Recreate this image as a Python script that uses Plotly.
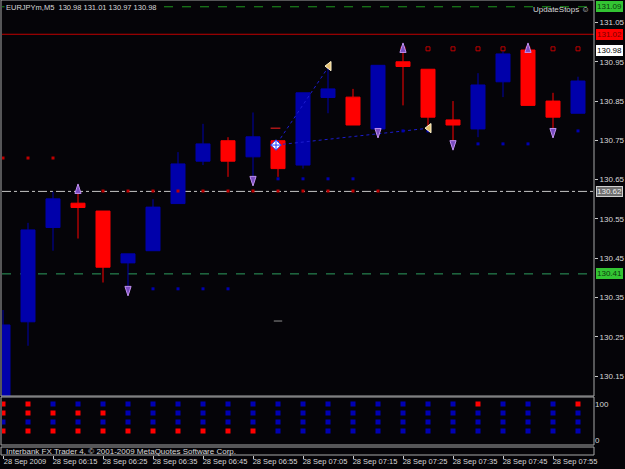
import plotly.graph_objects as go

# ---------------- data ----------------
bar_times = ["06:05", "06:10", "06:15", "06:20", "06:25", "06:30", "06:35", "06:40",
             "06:45", "06:50", "06:55", "07:00", "07:05", "07:10", "07:15", "07:20",
             "07:25", "07:30", "07:35", "07:40", "07:45", "07:50", "07:55", "08:00"]
bar_idx = list(range(len(bar_times)))
opens = [130.050, 130.288, 130.528, 130.590, 130.570, 130.438, 130.469, 130.589,
         130.697, 130.749, 130.708, 130.749, 130.687, 130.859, 130.860, 130.779,
         130.950, 130.931, 130.802, 130.779, 130.899, 130.980, 130.850, 130.819]
highs = [130.318, 130.540, 130.619, 130.616, 130.570, 130.461, 130.600, 130.720,
         130.792, 130.758, 130.821, 130.749, 130.871, 130.935, 130.881, 130.941,
         130.975, 130.931, 130.850, 130.921, 130.977, 130.980, 130.871, 130.912]
lows = [130.020, 130.227, 130.469, 130.500, 130.388, 130.374, 130.469, 130.589,
        130.687, 130.657, 130.652, 130.657, 130.678, 130.819, 130.789, 130.768,
        130.839, 130.776, 130.742, 130.758, 130.860, 130.839, 130.776, 130.819]
closes = [130.280, 130.522, 130.601, 130.579, 130.427, 130.461, 130.580, 130.690,
          130.741, 130.697, 130.759, 130.678, 130.871, 130.881, 130.789, 130.941,
          130.938, 130.809, 130.789, 130.891, 130.970, 130.839, 130.809, 130.901]

time_tick_idx = [0, 2, 4, 6, 8, 10, 12, 14, 16, 18, 20, 22]
time_tick_text = ["28 Sep 2009", "28 Sep 06:15", "28 Sep 06:25", "28 Sep 06:35",
                  "28 Sep 06:45", "28 Sep 06:55", "28 Sep 07:05", "28 Sep 07:15",
                  "28 Sep 07:25", "28 Sep 07:35", "28 Sep 07:45", "28 Sep 07:55"]
price_ticks = [131.05, 130.95, 130.85, 130.75, 130.65, 130.55, 130.45, 130.35, 130.25, 130.15]
price_tick_text = ["131.05", "130.95", "130.85", "130.75", "130.65", "130.55",
                   "130.45", "130.35", "130.25", "130.15"]

# indicator marks
up_arrow_idx = [3, 16, 21]
up_arrow_price = [130.639, 130.998, 130.998]
down_arrow_idx = [5, 10, 15, 18, 22]
down_arrow_price = [130.354, 130.634, 130.756, 130.725, 130.756]
tri_idx = [13.04, 17.04]
tri_price = [130.939, 130.781]
pivot_idx = [10.92]
pivot_price = [130.738]
dotline_idx = [13.04, 10.92, 17.04]
dotline_price = [130.939, 130.738, 130.781]
red_stop = [130.705] * 3 + [130.621] * 13 + [None] * 8
red_hollow = [None] * 16 + [130.983] * 8
blue_stop = [None] * 5 + [130.372] * 5 + [130.652] * 5 + [130.774] * 3 + [130.741] * 4 + [130.774] * 2
red_dash_idx = [10.9]
red_dash_price = [130.781]
gray_dash_idx = [11]
gray_dash_price = [130.290]

# price levels: (price, colour, dash)
level_prices = [131.09, 131.02, 130.62, 130.41]
level_colors = ["#1f9a1f", "#c00000", "#c8c8c8", "#2e9e5e"]
level_dashes = ["dash", "solid", "dashdot", "dash"]

# right-hand price boxes
box_prices = [131.09, 131.02, 130.98, 130.62, 130.41]
box_text = ["131.09", "131.02", "130.98", "130.62", "130.41"]
box_bg = ["#33c433", "#ff0000", "#ffffff", "#6e6e6e", "#33c433"]
box_fg = ["#0d3a0d", "#7a0000", "#000000", "#eeeeee", "#0d3a0d"]
box_border = ["#33c433", "#ff0000", "#ffffff", "#d0d0d0", "#33c433"]

# sub-window signal rows (levels 100/75/50/25)
sub_levels = [100, 75, 50, 25]
R, B = "#ff0000", "#0000b4"
sub_row_colors = [
    [R, R] + [B] * 17 + [R] + [B] * 3 + [R],
    [R] * 5 + [B] * 19,
    [B] * 24,
    [R] * 11 + [B] * 13,
]

# ---------------- geometry helpers ----------------
W, H = 625, 469
def px(xp):
    return xp / W
def py(yp):
    return 1 - yp / H

X_LEFT, X_RIGHT = 2, 594
x_range = [(X_LEFT - 3) / 25, (X_RIGHT - 3) / 25]
MAIN_TOP, MAIN_BOT = 0, 396
ppu = 392.8
y_range = [131.05 - (MAIN_BOT - 22.5) / ppu, 131.05 + 22.5 / ppu]
SUB_TOP, SUB_BOT = 398, 445
sub_range = [0 - (SUB_BOT - 440) / 0.36, 100 + (404 - SUB_TOP) / 0.36]

FONT = "Liberation Sans, Arial, sans-serif"
TXT = "#d8d8d8"
BG = "#050408"

fig = go.Figure()

fig.add_trace(go.Candlestick(
    x=bar_idx, open=opens, high=highs, low=lows, close=closes,
    increasing=dict(line=dict(color="#0000aa", width=1), fillcolor="#0000aa"),
    decreasing=dict(line=dict(color="#ff0000", width=1), fillcolor="#ff0000"),
    whiskerwidth=0, hoverinfo="skip", xaxis="x", yaxis="y"))

fig.add_trace(go.Scatter(x=dotline_idx, y=dotline_price, mode="lines",
                         line=dict(color="#1c1cd0", width=1, dash="dot"),
                         hoverinfo="skip"))
fig.add_trace(go.Scatter(x=bar_idx, y=red_stop, mode="markers",
                         marker=dict(symbol="square", size=3, color="#c00000")))
fig.add_trace(go.Scatter(x=bar_idx, y=red_hollow, mode="markers",
                         marker=dict(symbol="square-open", size=4, color="#c00000",
                                     line=dict(width=1))))
fig.add_trace(go.Scatter(x=bar_idx, y=blue_stop, mode="markers",
                         marker=dict(symbol="square", size=3, color="#0000b0")))
fig.add_trace(go.Scatter(x=red_dash_idx, y=red_dash_price, mode="markers",
                         marker=dict(symbol="line-ew", size=7,
                                     line=dict(color="#ff2020", width=1))))
fig.add_trace(go.Scatter(x=gray_dash_idx, y=gray_dash_price, mode="markers",
                         marker=dict(symbol="line-ew", size=6,
                                     line=dict(color="#909090", width=1))))
fig.add_trace(go.Scatter(x=up_arrow_idx, y=up_arrow_price, mode="markers",
                         marker=dict(symbol="arrow", size=10, angle=0, color="#7a4cc0",
                                     line=dict(color="#c090f0", width=1))))
fig.add_trace(go.Scatter(x=down_arrow_idx, y=down_arrow_price, mode="markers",
                         marker=dict(symbol="arrow", size=10, angle=180, color="#7a4cc0",
                                     line=dict(color="#c090f0", width=1))))
fig.add_trace(go.Scatter(x=tri_idx, y=tri_price, mode="markers",
                         marker=dict(symbol="triangle-left", size=8, color="#e6c070",
                                     line=dict(color="#fff4d0", width=1))))
fig.add_trace(go.Scatter(x=pivot_idx, y=pivot_price, mode="markers",
                         marker=dict(symbol="diamond-cross", size=8, color="#ffffff",
                                     line=dict(color="#2040ff", width=1))))

# sub-window rows
for lvl, cols in zip(sub_levels, sub_row_colors):
    fig.add_trace(go.Scatter(x=bar_idx, y=[lvl] * len(bar_idx), mode="markers",
                             xaxis="x2", yaxis="y2",
                             marker=dict(symbol="square", size=5, color=cols)))

# carrier trace for time axis
fig.add_trace(go.Scatter(x=[time_tick_idx[0]], y=[None], xaxis="x3", yaxis="y",
                         mode="markers", marker=dict(opacity=0)))

shapes = []
for p, c, d in zip(level_prices, level_colors, level_dashes):
    shapes.append(dict(type="line", xref="x domain", yref="y", x0=0, x1=1, y0=p, y1=p,
                       line=dict(color=c, width=1, dash=d), layer="below"))
frame = "#a8a8a8"
for (x0, y0, x1, y1) in [(1, 0, X_RIGHT, MAIN_BOT), (1, SUB_TOP - 1, X_RIGHT, SUB_BOT),
                         (1, 447, X_RIGHT, 455)]:
    shapes.append(dict(type="rect", xref="paper", yref="paper",
                       x0=px(x0), x1=px(x1), y0=py(y1), y1=py(y0),
                       line=dict(color=frame, width=1), layer="above"))

annotations = []
for p, t, bg, fg, bd in zip(box_prices, box_text, box_bg, box_fg, box_border):
    annotations.append(dict(xref="paper", yref="y", x=px(596), y=p, text=t,
                            showarrow=False, xanchor="left", yanchor="middle",
                            bgcolor=bg, bordercolor=bd, borderwidth=1, borderpad=0,
                            font=dict(family=FONT, size=8, color=fg)))
annotations.append(dict(xref="paper", yref="paper", x=px(4), y=py(7),
                        text="EURJPYm,M5  130.98 131.01 130.97 130.98", showarrow=False,
                        xanchor="left", yanchor="middle", bgcolor=BG,
                        font=dict(family=FONT, size=7.5, color=TXT)))
annotations.append(dict(xref="paper", yref="paper", x=px(592), y=py(9),
                        text="UpdateStops ☺", showarrow=False,
                        xanchor="right", yanchor="middle",
                        font=dict(family=FONT, size=8, color=TXT)))
annotations.append(dict(xref="paper", yref="paper", x=px(4), y=py(451),
                        text="Interbank FX Trader 4, © 2001-2009 MetaQuotes Software Corp.",
                        showarrow=False, xanchor="left", yanchor="middle",
                        font=dict(family=FONT, size=8, color=TXT)))

axis_common = dict(showgrid=False, zeroline=False, automargin=False)
fig.update_layout(
    width=W, height=H, margin=dict(l=0, r=0, t=0, b=0, autoexpand=False),
    paper_bgcolor=BG, plot_bgcolor=BG, showlegend=False, hovermode=False,
    boxgap=0.2,
    xaxis=dict(domain=[px(X_LEFT), px(X_RIGHT)], range=x_range, anchor="y",
               showticklabels=False, ticks="", rangeslider=dict(visible=False),
               **axis_common),
    yaxis=dict(domain=[py(MAIN_BOT), 1], range=y_range, anchor="x", side="right",
               tickvals=price_ticks, ticktext=price_tick_text, ticks="outside",
               ticklen=3, tickcolor="#c8c8c8",
               tickfont=dict(family=FONT, size=8, color=TXT), **axis_common),
    xaxis2=dict(domain=[px(X_LEFT), px(X_RIGHT)], range=x_range, anchor="y2",
                showticklabels=False, ticks="", **axis_common),
    yaxis2=dict(domain=[py(SUB_BOT), py(SUB_TOP)], range=sub_range, anchor="x2",
                side="right", tickvals=[0, 100], ticktext=["0", "100"], ticks="",
                tickfont=dict(family=FONT, size=8, color=TXT), **axis_common),
    xaxis3=dict(overlaying="x", anchor="free", position=py(455), side="bottom",
                range=x_range, tickvals=time_tick_idx, ticktext=time_tick_text,
                ticks="outside", ticklen=3, tickcolor="#c8c8c8", ticklabelshift=22,
                ticklabelstandoff=-4, tickangle=0,
                tickfont=dict(family=FONT, size=7.5, color=TXT), **axis_common),
    shapes=shapes, annotations=annotations,
)

fig.write_html("out.html")
